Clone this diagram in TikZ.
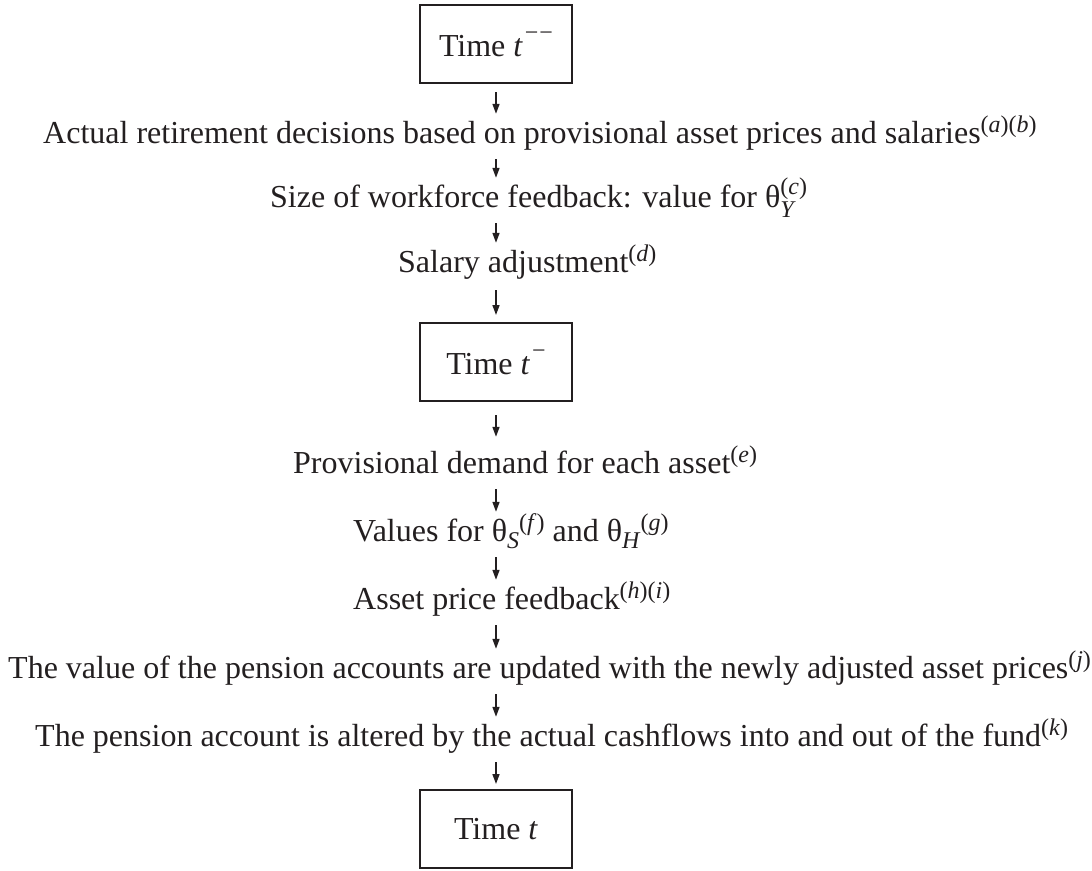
\documentclass[tikz,border=0pt]{standalone}
\usepackage{fontspec}
\setmainfont{Liberation Serif}
\usetikzlibrary{arrows.meta}
\definecolor{ink}{RGB}{35,31,32}
\newcommand{\scrfont}{\fontsize{24}{24}\selectfont}
\newcommand{\sups}[1]{\raisebox{11pt}{\scrfont #1}}
\newcommand{\subs}[1]{\raisebox{-7pt}{\scrfont #1}}
\newcommand{\itx}[1]{\textit{#1\/}}
\begin{document}
\begin{tikzpicture}[x=1pt,y=1pt,
  font=\fontsize{32}{38}\selectfont, color=ink,
  txt/.style={anchor=base west, inner sep=0pt, text height=22pt, text depth=8pt},
  timebox/.style={draw, line width=2pt, minimum width=152pt, minimum height=78pt, inner sep=0pt},
  arr/.style={line width=1.6pt, -{Triangle[length=10pt,width=7pt]}, shorten <=8pt, shorten >=7pt}]
\useasboundingbox (0,0) rectangle (1092,-870);
\coordinate (col) at (496,0);

\node[timebox] (box1) at (496,-44) {Time \textit{t}\kern2pt\raisebox{16pt}{\scrfont −\kern1pt−}};
\node[txt] (t1) at (43,-143) {Actual retirement decisions based on provisional asset prices and salaries\sups{(\itx{a})(\itx{b})}};
\node[txt] (t2) at (270,-207) {Size of workforce feedback: value for θ\rlap{\raisebox{-10pt}{\scrfont\itx{Y}}}\raisebox{13pt}{\scrfont(\itx{c})}};
\node[txt] (t3) at (398,-272) {Salary adjustment\sups{(\itx{d})}};
\node[timebox] (box2) at (496,-362) {Time \textit{t}\kern2pt\raisebox{16pt}{\scrfont −}};
\node[txt] (t4) at (293,-473) {Provisional demand for each asset\sups{(\itx{e})}};
\node[txt] (t5) at (353,-541) {Values for θ\subs{\itx{S}}\sups{(\itx{f})} and θ\subs{\itx{H}}\sups{(\itx{g})}};
\node[txt] (t6) at (353,-609) {Asset price feedback\sups{(\itx{h})(\itx{i})}};
\node[txt] (t7) at (8,-678) {The value of the pension accounts are updated with the newly adjusted asset prices\sups{(\itx{j})}};
\node[txt] (t8) at (35,-746) {The pension account is altered by the actual cashflows into and out of the fund\sups{(\itx{k})}};
\node[timebox] (box3) at (496,-829) {Time \textit{t}};

\draw[arr] (col |- box1.south) -- (col |- t1.north);
\draw[arr] (col |- t1.south) -- (col |- t2.north);
\draw[arr] (col |- t2.south) -- (col |- t3.north);
\draw[arr, shorten <=10pt] (col |- t3.south) -- (col |- box2.north);
\draw[arr, shorten <=13pt, shorten >=14pt] (col |- box2.south) -- (col |- t4.north);
\draw[arr] (col |- t4.south) -- (col |- t5.north);
\draw[arr] (col |- t5.south) -- (col |- t6.north);
\draw[arr] (col |- t6.south) -- (col |- t7.north);
\draw[arr] (col |- t7.south) -- (col |- t8.north);
\draw[arr, shorten >=5pt] (col |- t8.south) -- (col |- box3.north);
\end{tikzpicture}
\end{document}
